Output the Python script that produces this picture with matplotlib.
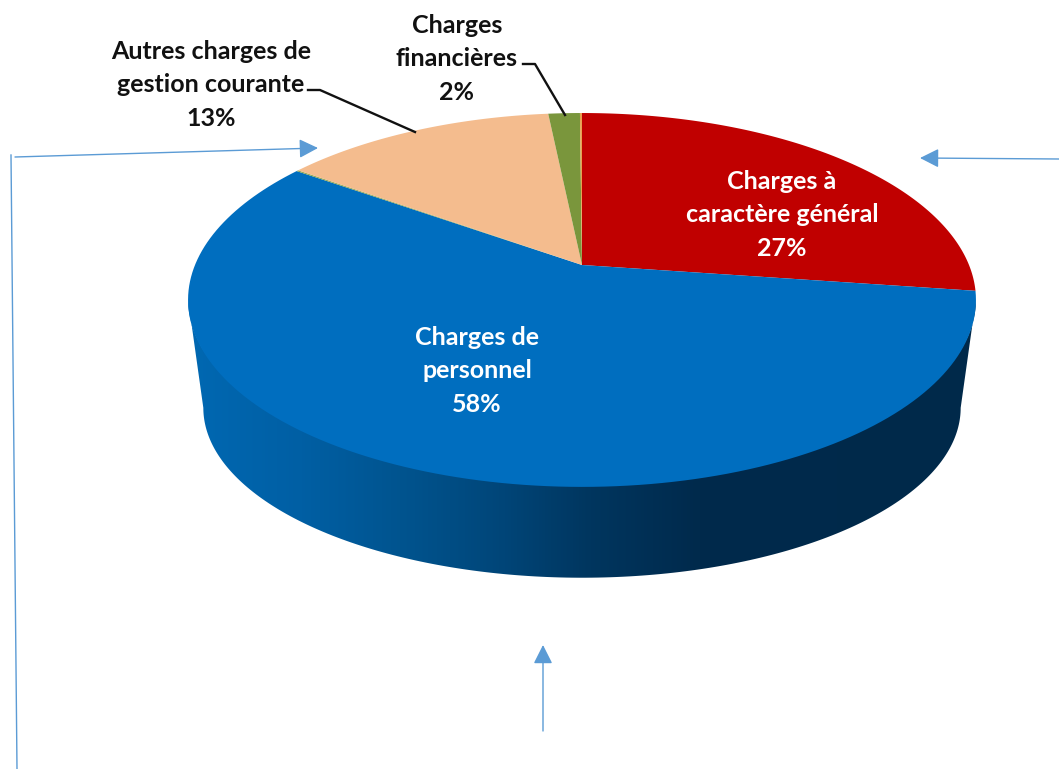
import numpy as np
import matplotlib.pyplot as plt
from matplotlib.colors import LinearSegmentedColormap
from matplotlib.patches import Polygon

# valeurs, sens horaire depuis le haut
# (deux tranches tres fines sans etiquette)
categories = ['Charges à\ncaractère général', 'Charges de\npersonnel', '',
              'Autres charges de\ngestion courante', 'Charges\nfinancières', '']
values = [27.2, 57.5, 0.1, 13.45, 1.55, 0.1]
colors = ['#C00000', '#006EBF', '#8FA650', '#F4BC8E', '#7A963C', '#E8A050']

label_x = [782, 477, None, 211, 457, None]
label_y = [215, 371, None, 85, 59, None]
label_colors = ['white', 'white', None, '#111111', '#111111', None]

side_pos = [188, 300, 400, 500, 590, 700, 976]
side_colors = ['#0068B2', '#005FA4', '#00548F', '#004679', '#00365F', '#002A4C', '#00294A']

plt.rcParams['font.family'] = ['Lato', 'DejaVu Sans']

fig = plt.figure(figsize=(10.59, 7.69), dpi=100)
ax = fig.add_axes([0, 0, 1, 1])
ax.set_xlim(0, 1059)
ax.set_ylim(769, 0)
ax.axis('off')

# disque vu en perspective : cercle unite -> ellipse, le centre n'est pas au milieu
K = 0.187


def project(t, x0=582, y0=265, a=180.4, b=387):
    u, v = np.sin(t), np.cos(t)
    return x0 + b * u / (1 + K * v), y0 - a * v / (1 + K * v)


# flanc du camembert, le haut passe un peu sous le disque
t_sil = np.arccos(-K)
t_side = np.linspace(t_sil, 2 * np.pi - t_sil, 200)
xt, yt = project(t_side, a=177, b=387)
xb, yb = project(t_side, y0=376, a=164, b=372)
side_xy = np.vstack([np.column_stack([xt, yt]), np.column_stack([xb, yb])[::-1]])
side_patch = Polygon(side_xy, closed=True, fc='none', ec='none')
ax.add_patch(side_patch)

stops = [(p - side_pos[0]) / (side_pos[-1] - side_pos[0]) for p in side_pos]
cmap = LinearSegmentedColormap.from_list('flanc', list(zip(stops, side_colors)))
grad = np.linspace(0, 1, 512).reshape(1, -1)
im = ax.imshow(grad, extent=(side_pos[0], side_pos[-1], 600, 280), aspect='auto',
               cmap=cmap, zorder=1)
im.set_clip_path(side_patch)
ax.set_xlim(0, 1059)
ax.set_ylim(769, 0)

# tranches du dessus
fractions = np.cumsum([0] + values) / sum(values)
for i, col in enumerate(colors):
    t = np.linspace(fractions[i], fractions[i + 1], 150) * 2 * np.pi
    x, y = project(t)
    ax.fill(np.r_[582, x], np.r_[265, y], color=col, lw=0, zorder=2)

# etiquettes
for name, val, lx, ly, col in zip(categories, values, label_x, label_y, label_colors):
    if not name:
        continue
    ax.text(lx, ly, f'{name}\n{val:.0f}%', color=col, ha='center', va='center',
            fontsize=18, fontweight='bold', linespacing=1.55, zorder=4)

# traits de rappel
ax.plot([308, 320, 415], [90, 90, 132], color='#111111', lw=1.7, zorder=3)
ax.plot([523, 535, 565], [64, 64, 115], color='#111111', lw=1.7, zorder=3)

# fleches bleues ajoutees sur l'image
arrow_col = '#5B9BD5'
ax.plot([11, 17], [155, 769], color=arrow_col, lw=1.0, zorder=3)
arrows = [((15, 157), (318, 148)), ((1059, 159), (920, 158)), ((543, 731), (543, 645))]
for start, tip in arrows:
    ax.annotate('', xy=tip, xytext=start, zorder=3,
                arrowprops=dict(arrowstyle='-|>,head_length=11.5,head_width=5.8',
                                mutation_scale=1, color=arrow_col, lw=1.0,
                                shrinkA=0, shrinkB=0))

fig.savefig('out.png', dpi=100)
